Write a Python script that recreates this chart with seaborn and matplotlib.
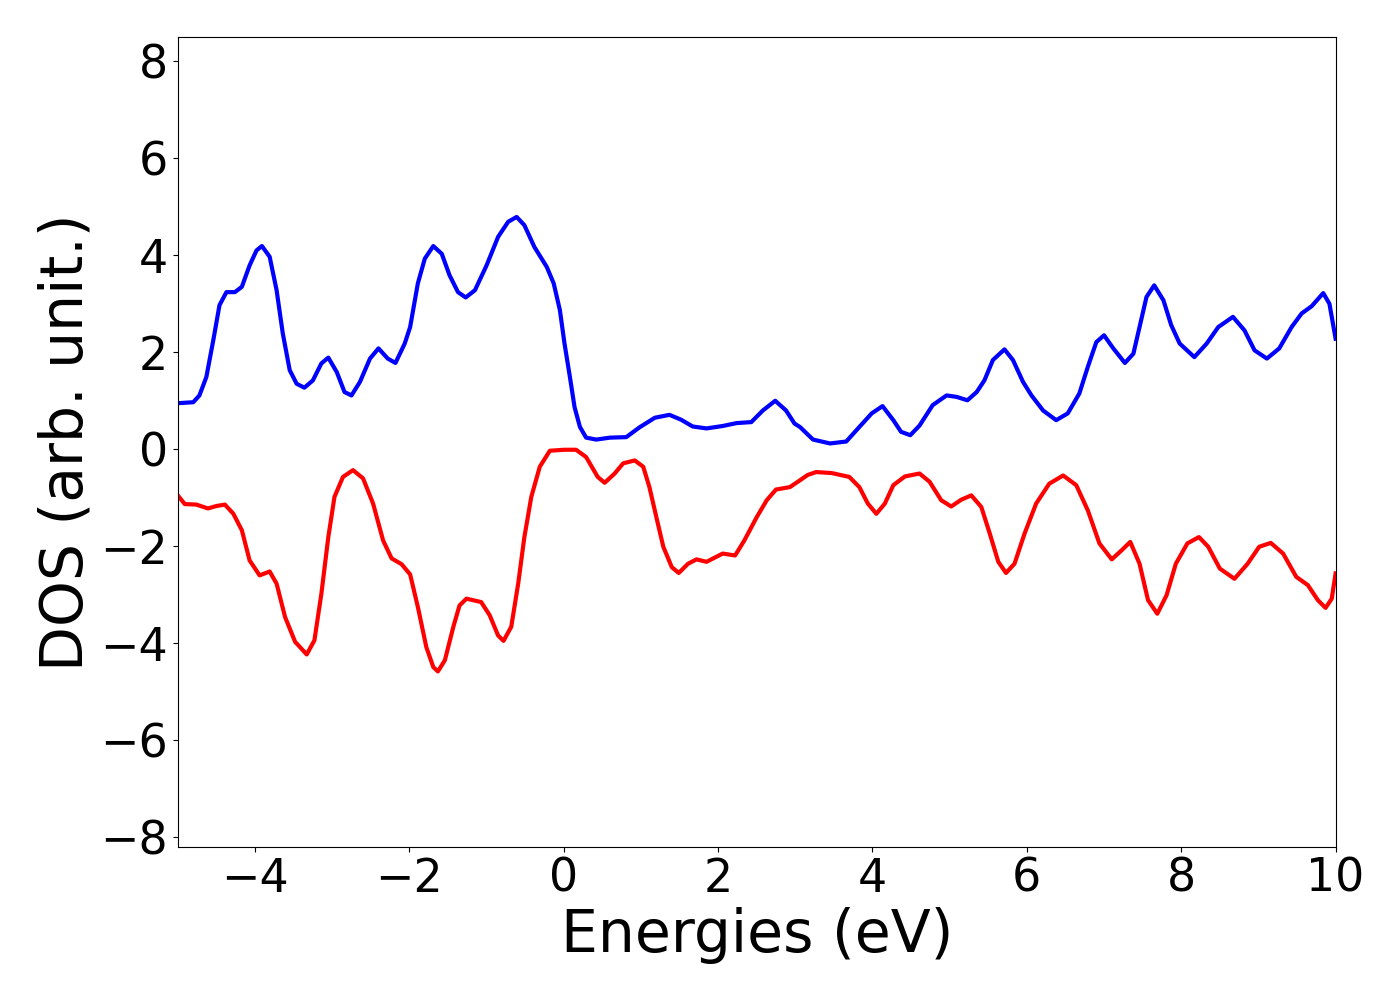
import matplotlib
matplotlib.use("Agg")
import matplotlib.pyplot as plt
import seaborn as sns

# spin-up DOS (blue)
energy_up = [-5.00, -4.80, -4.72, -4.63, -4.54, -4.46, -4.37, -4.26, -4.17, -4.07,
             -3.98, -3.91, -3.81, -3.72, -3.64, -3.55, -3.46, -3.36, -3.25, -3.14,
             -3.05, -2.94, -2.84, -2.75, -2.64, -2.51, -2.40, -2.28, -2.18, -2.06,
             -1.99, -1.89, -1.80, -1.69, -1.58, -1.48, -1.37, -1.27, -1.15, -1.00,
             -0.85, -0.72, -0.61, -0.51, -0.38, -0.22, -0.13, -0.05, 0.01, 0.08,
             0.14, 0.21, 0.29, 0.42, 0.60, 0.81, 0.98, 1.18, 1.37, 1.52,
             1.67, 1.85, 2.06, 2.24, 2.43, 2.58, 2.74, 2.88, 2.99, 3.06,
             3.23, 3.45, 3.66, 3.83, 3.99, 4.13, 4.27, 4.37, 4.49, 4.61,
             4.78, 4.96, 5.09, 5.23, 5.35, 5.45, 5.56, 5.71, 5.82, 5.95,
             6.06, 6.21, 6.38, 6.53, 6.68, 6.79, 6.90, 7.00, 7.12, 7.27,
             7.38, 7.46, 7.55, 7.65, 7.77, 7.87, 7.98, 8.17, 8.33, 8.48,
             8.67, 8.82, 8.95, 9.11, 9.27, 9.43, 9.56, 9.69, 9.84, 9.92,
             10.00]
dos_up = [0.95, 0.97, 1.11, 1.49, 2.25, 2.97, 3.24, 3.24, 3.35, 3.79,
          4.10, 4.19, 3.97, 3.28, 2.39, 1.63, 1.35, 1.27, 1.42, 1.77,
          1.89, 1.59, 1.18, 1.11, 1.39, 1.87, 2.08, 1.87, 1.78, 2.18,
          2.52, 3.42, 3.93, 4.19, 4.03, 3.59, 3.24, 3.13, 3.28, 3.79,
          4.38, 4.69, 4.79, 4.62, 4.17, 3.76, 3.42, 2.87, 2.18, 1.49,
          0.87, 0.46, 0.24, 0.20, 0.24, 0.25, 0.45, 0.65, 0.71, 0.61,
          0.47, 0.43, 0.48, 0.54, 0.56, 0.80, 1.00, 0.80, 0.53, 0.46,
          0.20, 0.12, 0.16, 0.46, 0.74, 0.89, 0.60, 0.36, 0.29, 0.49,
          0.91, 1.11, 1.08, 1.01, 1.18, 1.42, 1.84, 2.06, 1.84, 1.39,
          1.11, 0.80, 0.60, 0.74, 1.15, 1.70, 2.21, 2.35, 2.08, 1.78,
          1.97, 2.52, 3.14, 3.38, 3.07, 2.56, 2.18, 1.90, 2.18, 2.52,
          2.73, 2.45, 2.04, 1.87, 2.08, 2.52, 2.80, 2.95, 3.22, 3.00,
          2.28]

# spin-down DOS (red)
energy_down = [-5.00, -4.91, -4.76, -4.61, -4.50, -4.39, -4.28, -4.17, -4.07, -3.94,
               -3.81, -3.72, -3.61, -3.48, -3.33, -3.23, -3.14, -3.05, -2.97, -2.86,
               -2.73, -2.60, -2.47, -2.34, -2.23, -2.10, -1.99, -1.89, -1.78, -1.69,
               -1.63, -1.54, -1.43, -1.35, -1.26, -1.07, -0.96, -0.85, -0.78, -0.68,
               -0.59, -0.51, -0.42, -0.31, -0.18, 0.01, 0.16, 0.29, 0.44, 0.53,
               0.66, 0.77, 0.92, 1.03, 1.11, 1.20, 1.29, 1.40, 1.49, 1.61,
               1.72, 1.85, 2.06, 2.22, 2.34, 2.50, 2.63, 2.75, 2.93, 3.06,
               3.16, 3.27, 3.47, 3.70, 3.83, 3.94, 4.05, 4.16, 4.27, 4.42,
               4.61, 4.74, 4.89, 5.02, 5.15, 5.28, 5.41, 5.52, 5.63, 5.73,
               5.84, 5.97, 6.12, 6.29, 6.47, 6.64, 6.79, 6.94, 7.10, 7.23,
               7.34, 7.46, 7.57, 7.69, 7.81, 7.93, 8.08, 8.23, 8.35, 8.50,
               8.69, 8.86, 9.01, 9.16, 9.32, 9.49, 9.64, 9.77, 9.87, 9.95,
               10.00]
dos_down = [-0.95, -1.13, -1.14, -1.22, -1.17, -1.14, -1.33, -1.67, -2.29, -2.60,
            -2.52, -2.77, -3.46, -3.97, -4.23, -3.94, -2.98, -1.81, -0.98, -0.57,
            -0.43, -0.60, -1.12, -1.88, -2.25, -2.37, -2.58, -3.25, -4.08, -4.49,
            -4.58, -4.35, -3.66, -3.22, -3.08, -3.15, -3.42, -3.84, -3.95, -3.66,
            -2.77, -1.81, -0.98, -0.36, -0.03, -0.01, -0.01, -0.16, -0.57, -0.69,
            -0.50, -0.29, -0.23, -0.36, -0.78, -1.40, -2.01, -2.43, -2.55, -2.36,
            -2.27, -2.32, -2.15, -2.19, -1.88, -1.40, -1.05, -0.83, -0.78, -0.64,
            -0.53, -0.47, -0.49, -0.57, -0.78, -1.12, -1.33, -1.12, -0.74, -0.56,
            -0.50, -0.67, -1.05, -1.18, -1.04, -0.95, -1.19, -1.74, -2.32, -2.55,
            -2.36, -1.74, -1.12, -0.71, -0.54, -0.74, -1.26, -1.94, -2.27, -2.08,
            -1.91, -2.36, -3.11, -3.39, -3.01, -2.36, -1.94, -1.81, -2.01, -2.46,
            -2.67, -2.36, -2.01, -1.93, -2.15, -2.63, -2.80, -3.11, -3.27, -3.08,
            -2.56]

x_ticks = [-4, -2, 0, 2, 4, 6, 8, 10]
y_ticks = [-8, -6, -4, -2, 0, 2, 4, 6, 8]

fig = plt.figure(figsize=(14, 10), dpi=100)
ax = fig.add_axes([0.127, 0.153, 0.827, 0.810])

sns.lineplot(x=energy_up, y=dos_up, color="blue", linewidth=3, ax=ax,
             sort=False, solid_joinstyle="round")
sns.lineplot(x=energy_down, y=dos_down, color="red", linewidth=3, ax=ax,
             sort=False, solid_joinstyle="round")

ax.set_xlim(-5, 10)
ax.set_ylim(-8.2, 8.5)
ax.set_xticks(x_ticks)
ax.set_yticks(y_ticks)
ax.tick_params(labelsize=33)
ax.set_xlabel("Energies (eV)", fontsize=42)
ax.set_ylabel("DOS (arb. unit.)", fontsize=42)

fig.savefig("out.png", dpi=100)
